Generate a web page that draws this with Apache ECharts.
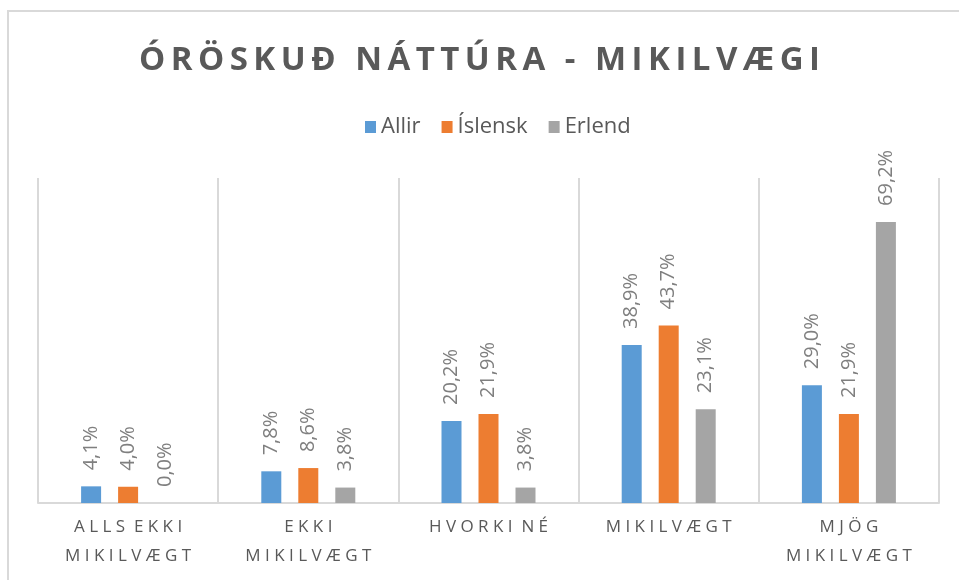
<!DOCTYPE html>
<html>
<head>
<meta charset="utf-8">
<script src="https://cdn.jsdelivr.net/npm/echarts@6/dist/echarts.min.js"></script>
<style>
  html, body { margin: 0; padding: 0; background: #ffffff; }
  #chart { width: 959px; height: 580px; }
</style>
</head>
<body>
<div id="chart"></div>
<script>
// Categories and survey shares (%)
const categories = ['ALLS EKKI\nMIKILVÆGT', 'EKKI\nMIKILVÆGT', 'HVORKI NÉ', 'MIKILVÆGT', 'MJÖG\nMIKILVÆGT'];
const seriesNames = ['Allir', 'Íslensk', 'Erlend'];
const allir   = [4.1, 7.8, 20.2, 38.9, 29.0];
const islensk = [4.0, 8.6, 21.9, 43.7, 21.9];
const erlend  = [0.0, 3.8, 3.8, 23.1, 69.2];
const colors  = ['#5b9bd5', '#ed7d31', '#a5a5a5'];
const titleText = 'ÓRÖSKUÐ NÁTTÚRA - MIKILVÆGI';

// Spread letters out to imitate wide tracking
function track(s, gap, wordGap) {
  return s.split('\n').map(line =>
    line.split(' ').map(w => Array.from(w).join(gap)).join(wordGap)
  ).join('\n');
}

const fmt = v => v.toFixed(1).replace('.', ',') + '%';

const chart = echarts.init(document.getElementById('chart'), null, { renderer: 'canvas' });

const values = [allir, islensk, erlend];
const series = seriesNames.map((name, i) => ({
  name: name,
  type: 'bar',
  data: values[i],
  barWidth: 20,
  barGap: '85%',
  itemStyle: { color: colors[i] },
  label: {
    show: true,
    position: 'top',
    rotate: 90,
    align: 'left',
    verticalAlign: 'middle',
    distance: 16,
    color: '#7f7f7f',
    fontFamily: 'Open Sans',
    fontSize: 20,
    formatter: p => fmt(p.value)
  }
}));

chart.setOption({
  animation: false,
  backgroundColor: '#ffffff',
  title: {
    text: track(titleText, '\u2009', '\u2009 \u2009'),
    left: 'center',
    top: 39,
    textStyle: {
      color: '#595959',
      fontFamily: 'Open Sans',
      fontWeight: 'bold',
      fontSize: 33
    }
  },
  legend: {
    top: 111,
    left: 360,
    itemWidth: 11,
    itemHeight: 12,
    itemGap: 21,
    icon: 'rect',
    textStyle: { color: '#595959', fontFamily: 'Open Sans', fontSize: 22 },
    data: seriesNames
  },
  grid: { left: 38, right: 20, top: 178, bottom: 77, containLabel: false },
  xAxis: {
    type: 'category',
    data: categories,
    axisLine: { show: true, lineStyle: { color: '#d9d9d9', width: 2 } },
    axisTick: { show: false },
    splitLine: { show: true, lineStyle: { color: '#d9d9d9', width: 2 } },
    axisLabel: {
      color: '#595959',
      fontFamily: 'Open Sans',
      fontSize: 17,
      lineHeight: 29,
      margin: 10,
      interval: 0,
      formatter: v => track(v, ' ', '  ')
    }
  },
  yAxis: {
    type: 'value',
    min: 0,
    max: 80,
    interval: 10,
    show: false,
    splitLine: { show: false }
  },
  graphic: [{
    type: 'rect',
    shape: { x: 8, y: 11, width: 980, height: 620 },
    style: { fill: 'none', stroke: '#d9d9d9', lineWidth: 2 },
    silent: true,
    z: -1
  }],
  series: series
});
</script>
</body>
</html>
